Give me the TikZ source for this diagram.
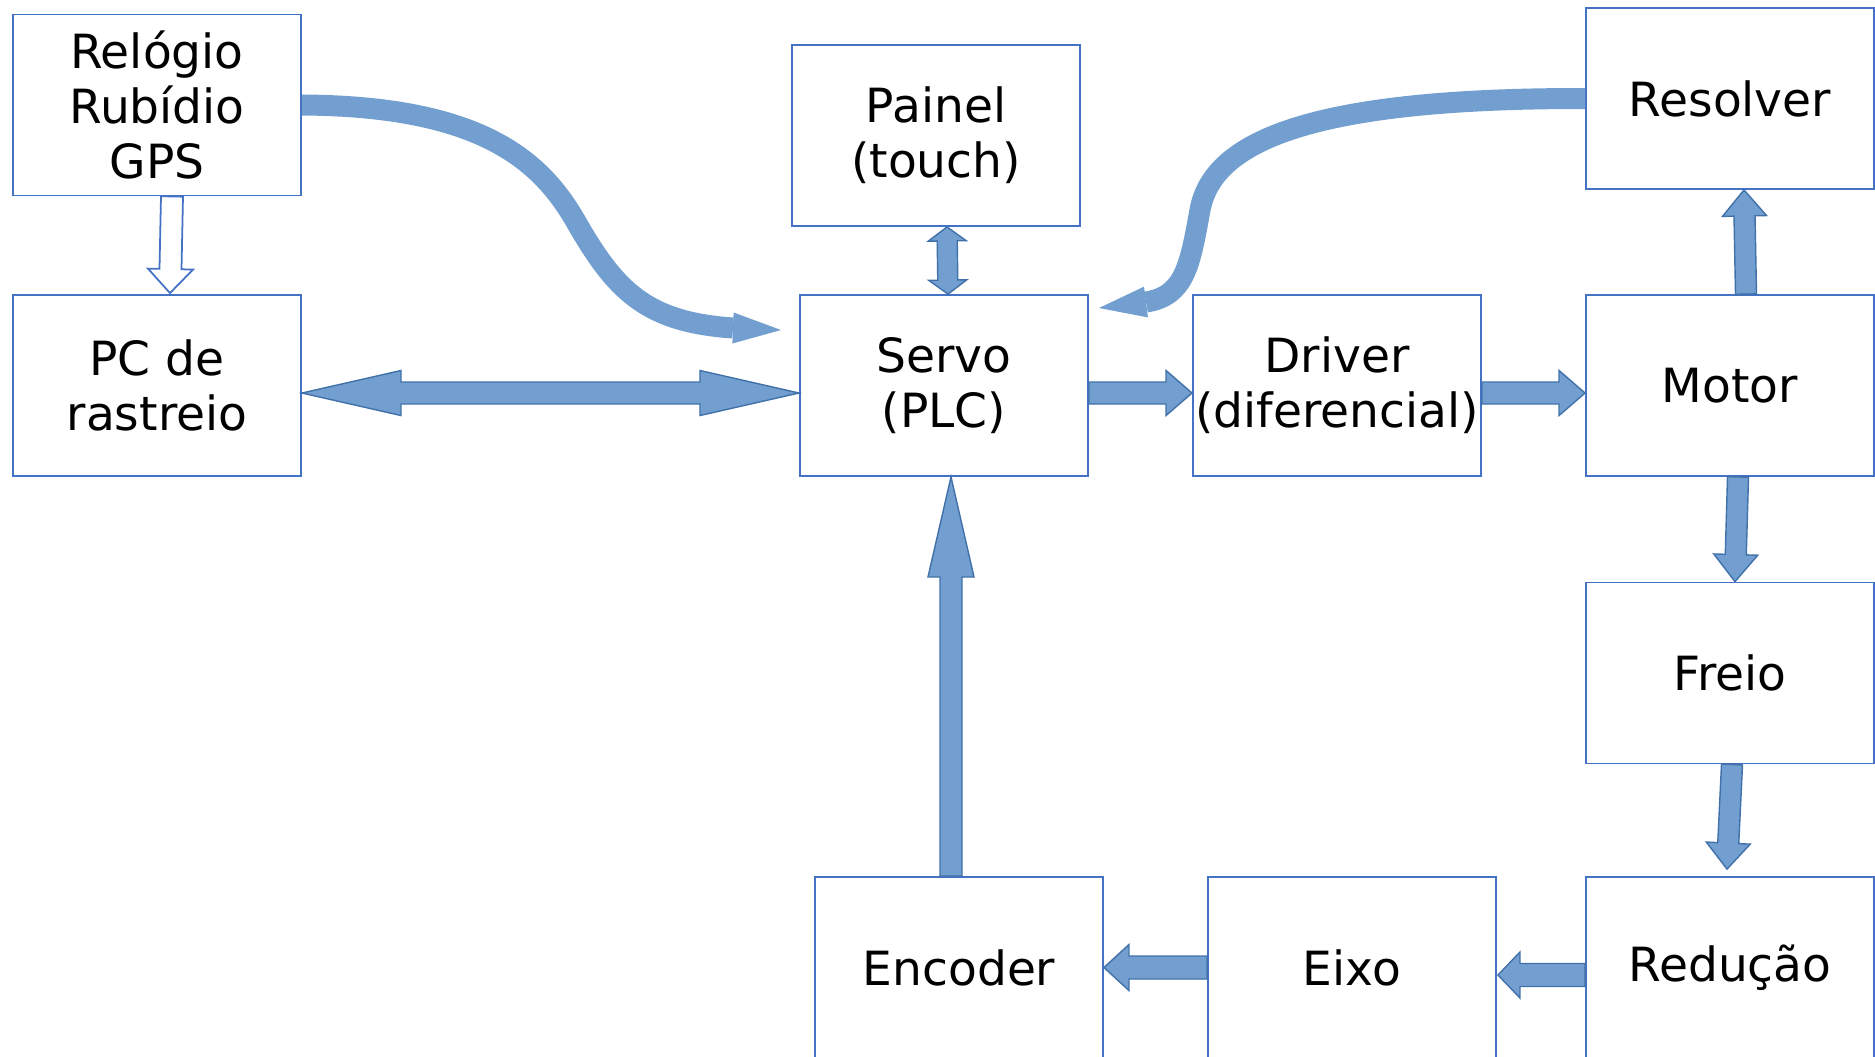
\documentclass[tikz,border=0pt]{standalone}
\usepackage{fontspec}
\setmainfont{DejaVu Sans}
\usetikzlibrary{calc}
\definecolor{boxline}{RGB}{68,114,196}
\definecolor{arrowfill}{RGB}{114,159,207}
\definecolor{arrowline}{RGB}{65,113,170}
\tikzset{
	box/.style={draw=boxline, line width=0.5pt, minimum width=2.88cm, minimum height=1.81cm, inner sep=0pt, align=center, font=\fontsize{13.4}{15.6}\selectfont},
	blockarrow/.style={fill=arrowfill, draw=arrowline, line width=0.4pt, line join=miter},
	hollowarrow/.style={fill=white, draw=boxline, line width=0.5pt, line join=miter},
	curvearrow/.style={draw=arrowfill, line width=0.21cm},
}
% [style]{from}{to}{shaft half width}{head half width}{head length}
\newcommand{\blkarrow}[6][blockarrow]{%
	\coordinate (ba-a) at (#2);
	\coordinate (ba-b) at (#3);
	\coordinate (ba-h) at ($(ba-b)!#6!(ba-a)$);
	\draw[#1] ($(ba-a)!#4!90:(ba-b)$) -- ($(ba-h)!#4!-90:(ba-a)$) -- ($(ba-h)!#5!-90:(ba-a)$) -- (ba-b) -- ($(ba-h)!#5!90:(ba-a)$) -- ($(ba-h)!#4!90:(ba-a)$) -- ($(ba-a)!#4!-90:(ba-b)$) -- cycle;}
\newcommand{\dblarrow}[6][blockarrow]{%
	\coordinate (da-a) at (#2);
	\coordinate (da-b) at (#3);
	\coordinate (da-h) at ($(da-a)!#6!(da-b)$);
	\coordinate (da-k) at ($(da-b)!#6!(da-a)$);
	\draw[#1] (da-a) -- ($(da-h)!#5!90:(da-b)$) -- ($(da-h)!#4!90:(da-b)$) -- ($(da-k)!#4!-90:(da-a)$) -- ($(da-k)!#5!-90:(da-a)$) -- (da-b) -- ($(da-k)!#5!90:(da-a)$) -- ($(da-k)!#4!90:(da-a)$) -- ($(da-h)!#4!-90:(da-b)$) -- ($(da-h)!#5!-90:(da-b)$) -- cycle;}
% {back}{tip}{half width}
\newcommand{\curvehead}[3]{\fill[arrowfill] ($(#1)!#3!90:(#2)$) -- (#2) -- ($(#1)!#3!-90:(#2)$) -- cycle;}

\begin{document}
\begin{tikzpicture}[x=0.01cm, y=-0.01cm]
	%%%%% START %%%%%
	\clip (0,0) rectangle (1875,1056);
	
	\node[box] (rel) at (157,105) {Relógio\\Rubídio\\GPS};
	\node[box] (pc) at (157,385.5) {PC de\\rastreio};
	\node[box] (painel) at (936,135.5) {Painel\\(touch)};
	\node[box] (servo) at (944,385.5) {Servo\\(PLC)};
	\node[box] (driver) at (1337,385.5) {Driver\\(diferencial)};
	\node[box] (resolver) at (1730,98.5) {Resolver};
	\node[box] (motor) at (1730,385.5) {Motor};
	\node[box] (freio) at (1730,673) {Freio};
	\node[box] (encoder) at (959,967.5) {Encoder};
	\node[box] (eixo) at (1352,967.5) {Eixo};
	\node[box] (reducao) at (1730,967.5) {Redução};
	
	\blkarrow[hollowarrow]{$(rel.south)+(15,0)$}{$(pc.north)+(13,-1)$}{0.11cm}{0.225cm}{0.24cm}
	\dblarrow{$(painel.south)+(11,0)$}{$(servo.north)+(4,0)$}{0.10cm}{0.19cm}{0.14cm}
	\dblarrow{$(pc.east)+(0,7.5)$}{$(servo.west)+(0,7.5)$}{0.11cm}{0.225cm}{0.99cm}
	
	\blkarrow{$(servo.east)+(0,7.5)$}{$(driver.west)+(0,7.5)$}{0.11cm}{0.225cm}{0.26cm}
	\blkarrow{$(driver.east)+(0,7.5)$}{$(motor.west)+(0,7.5)$}{0.11cm}{0.225cm}{0.26cm}
	\blkarrow{$(motor.north)+(16,0)$}{$(resolver.south)+(14,0)$}{0.105cm}{0.22cm}{0.26cm}
	\blkarrow{$(motor.south)+(8,0)$}{$(freio.north)+(5,0)$}{0.105cm}{0.22cm}{0.27cm}
	\blkarrow{$(freio.south)+(2,0)$}{$(reducao.north)+(-3,-7)$}{0.105cm}{0.22cm}{0.26cm}
	\blkarrow{$(reducao.west)+(0,7.5)$}{$(eixo.east)+(1,7.5)$}{0.115cm}{0.23cm}{0.22cm}
	\blkarrow{eixo.west}{encoder.east}{0.115cm}{0.23cm}{0.25cm}
	\blkarrow{$(encoder.north)+(-8,0)$}{$(servo.south)+(7,0)$}{0.11cm}{0.23cm}{1.00cm}
	
	% curved ones
	\coordinate (relEnd) at (733,328);
	\coordinate (relTip) at (781,330);
	\draw[curvearrow] (rel.east) .. controls (480,106) and (540,160) .. (575,220) .. controls (615,290) and (645,322) .. (relEnd);
	\curvehead{relEnd}{relTip}{0.155cm}
	
	\coordinate (resEnd) at (1146,302);
	\coordinate (resTip) at (1099,308);
	\draw[curvearrow] (resolver.west) .. controls (1300,98) and (1212,145) .. (1200,210) .. controls (1190,265) and (1185,296) .. (resEnd);
	\curvehead{resEnd}{resTip}{0.155cm}
	
	%%%%% END %%%%%
\end{tikzpicture}
\end{document}
